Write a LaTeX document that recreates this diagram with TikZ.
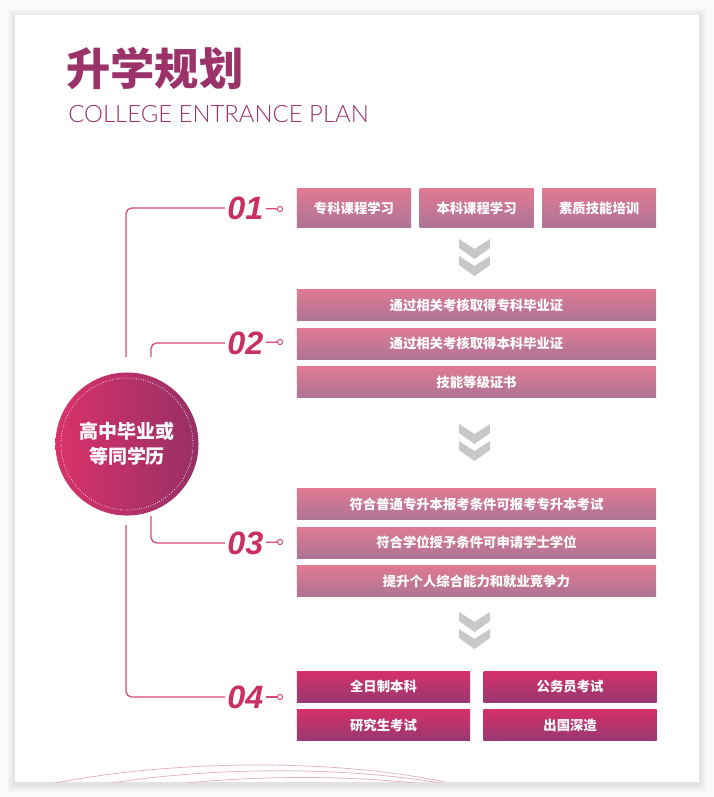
\documentclass[tikz,border=0pt]{standalone}
\usepackage{fontspec}
\usepackage{tikz}
\usetikzlibrary{positioning, calc}
\newfontfamily\cjk{Noto Sans CJK SC}
\newfontfamily\numfont{Liberation Sans}
\newfontfamily\enfont{Lato Light}
\definecolor{planpurple}{RGB}{155,50,105}
\definecolor{planline}{RGB}{214,72,122}
\definecolor{plannum}{RGB}{200,48,100}
\definecolor{boxtop}{RGB}{224,122,146}
\definecolor{boxbot}{RGB}{174,116,150}
\definecolor{deeptop}{RGB}{214,48,104}
\definecolor{deepbot}{RGB}{152,56,114}
\definecolor{circleft}{RGB}{218,50,105}
\definecolor{circright}{RGB}{150,48,102}
\definecolor{chevgray}{RGB}{200,200,200}
\definecolor{arcpink}{RGB}{226,175,192}
\begin{document}
\begin{tikzpicture}[x=0.025cm, y=-0.025cm,
    stepbox/.style={top color=boxtop, bottom color=boxbot, text=white, inner sep=0pt,
        font=\cjk\bfseries\fontsize{9.5}{11}\selectfont, minimum height=0.775cm},
    shortbox/.style={stepbox, minimum width=2.85cm, minimum height=0.95cm},
    widebox/.style={stepbox, minimum width=8.975cm},
    deepbox/.style={stepbox, top color=deeptop, bottom color=deepbot, minimum width=4.325cm},
    numlabel/.style={font=\numfont\bfseries\itshape\fontsize{23}{25}\selectfont, text=plannum, inner sep=1.5pt, anchor=west},
    link/.style={planline, line width=0.9pt, rounded corners=4pt},
    pin/.style={circle, draw=planline, fill=white, line width=0.7pt, inner sep=0pt, minimum size=0.13cm},
    chevron/.style={fill=chevgray}]
    \useasboundingbox (0,0) rectangle (714,797);
    % Card
    \fill[gray!4] (0,0) rectangle (714,797);
    \foreach \s in {1,...,8}
        \fill[black, opacity=0.01] (15-\s,15-\s+2) rectangle (699+\s,782+\s+2);
    \fill[white] (15,15) rectangle (699,782);
    \begin{scope}
        \clip (15,15) rectangle (699,782);
        \draw[arcpink, line width=0.5pt] (50,784) .. controls (170,760) and (330,758) .. (445,782);
        \draw[arcpink, line width=0.5pt] (105,784) .. controls (210,767) and (340,766) .. (440,783);
        \draw[arcpink, line width=0.5pt] (175,784) .. controls (255,776) and (335,775) .. (415,783);
    \end{scope}

    % Title
    \node[font=\cjk\bfseries\fontsize{31.5}{32}\selectfont, text=planpurple, anchor=west, inner sep=0pt] (title) at (66,68) {升学规划};
    \node[font=\enfont\fontsize{17}{17}\selectfont, text=planpurple, anchor=west, inner sep=0pt] (subtitle) at (68,114) {COLLEGE ENTRANCE PLAN};

    % Start
    \node[circle, minimum size=3.575cm, inner sep=0pt, left color=circleft, right color=circright, text=white, align=center,
        font=\cjk\bfseries\fontsize{13.5}{18}\selectfont] (start) at (127,444) {高中毕业或\\等同学历};
    \draw[white, line width=0.6pt, dash pattern=on 0.4pt off 1.3pt] (start.center) circle[radius=66];

    % Step 01
    \node[shortbox] (k1) at (354,208) {专科课程学习};
    \node[shortbox, right=0.2cm of k1] (k2) {本科课程学习};
    \node[shortbox, right=0.2cm of k2] (k3) {素质技能培训};
    % Step 02
    \node[widebox] (g1) at (476.5,305) {通过相关考核取得专科毕业证};
    \node[widebox, below=0.175cm of g1] (g2) {通过相关考核取得本科毕业证};
    \node[widebox, below=0.175cm of g2] (g3) {技能等级证书};
    % Step 03
    \node[widebox] (u1) at (476.5,504) {符合普通专升本报考条件可报考专升本考试};
    \node[widebox, below=0.175cm of u1] (u2) {符合学位授予条件可申请学士学位};
    \node[widebox, below=0.175cm of u2] (u3) {提升个人综合能力和就业竞争力};
    % Step 04
    \node[deepbox] (f1) at (383.5,686.5) {全日制本科};
    \node[deepbox, right=0.325cm of f1] (f2) {公务员考试};
    \node[deepbox, below=0.175cm of f1] (f3) {研究生考试};
    \node[deepbox, below=0.175cm of f2] (f4) {出国深造};

    % Chevrons
    \foreach \cy in {239,424,612}
        \foreach \dy in {0,17}
            \fill[chevron] (459,\cy+\dy) -- (474.5,\cy+\dy+10) -- (490,\cy+\dy) -- (490,\cy+\dy+9)
                -- (474.5,\cy+\dy+20) -- (459,\cy+\dy+9) -- cycle;

    % Numbers
    \node[numlabel] (n1) at (225,208) {01};
    \node[numlabel] (n2) at (225,343) {02};
    \node[numlabel] (n3) at (225,543) {03};
    \node[numlabel] (n4) at (225,697) {04};
    \node[pin] (p1) at (280,209) {};
    \node[pin] (p2) at (280,342) {};
    \node[pin] (p3) at (280,542) {};
    \node[pin] (p4) at (280,697) {};
    \foreach \i in {1,...,4}
        \draw[link] (n\i) -- (p\i);

    % Branches
    \coordinate (t1) at (126,357);
    \coordinate (t2) at (151,357);
    \coordinate (t3) at (151,516);
    \coordinate (t4) at (126,525);
    \foreach \i in {1,...,4}
        \draw[link] (t\i) |- (n\i.west);
\end{tikzpicture}
\end{document}
